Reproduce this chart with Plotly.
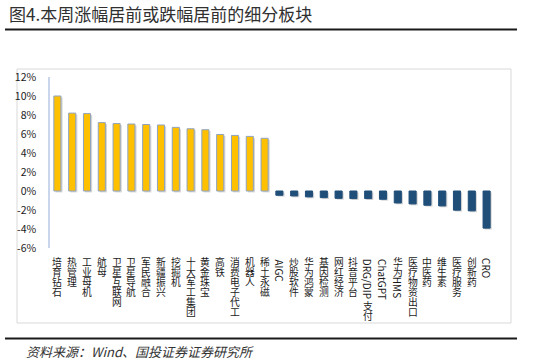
import plotly.graph_objects as go

categories = ["培育钻石", "热管理", "工业母机", "航母", "卫星互联网", "卫星导航", "军民融合",
              "新疆振兴", "挖掘机", "十大军工集团", "黄金珠宝", "高铁", "消费电子代工", "机器人",
              "稀土永磁", "AIGC", "炒股软件", "华为鸿蒙", "基因检测", "网红经济", "抖音平台",
              "DRG/DIP支付", "ChatGPT", "华为HMS", "医疗物资出口", "中医药", "维生素", "医疗服务",
              "创新药", "CRO"]
values = [10.0, 8.2, 8.15, 7.2, 7.1, 7.05, 7.0, 6.95, 6.7, 6.55, 6.45, 5.95, 5.85, 5.75, 5.55,
          -0.45, -0.52, -0.62, -0.7, -0.77, -0.8, -0.8, -0.87, -1.26, -1.36, -1.5, -1.57, -2.02,
          -2.09, -3.91]
tick_vals = [12, 10, 8, 6, 4, 2, 0, -2, -4, -6]
tick_text = ["12%", "10%", "8%", "6%", "4%", "2%", "0%", "-2%", "-4%", "-6%"]
title_text = "图4.本周涨幅居前或跌幅居前的细分板块"
source_text = "资料来源：Wind、国投证券证券研究所"

W, H = 533, 363
ML, MR, MT, MB = 50, 39, 77, 115
PW, PH = W - ML - MR, H - MT - MB


def px_x(px):
    return (px - ML) / PW


def px_y(py):
    return (H - MB - py) / PH


POS, NEG = "#FFC000", "#1F4E79"
colors = [POS if v >= 0 else NEG for v in values]
line_colors = ["#8FA3C0" if v >= 0 else "#1F4E79" for v in values]

fig = go.Figure()
# soft drop shadow
fig.add_trace(go.Bar(x=categories, y=values, base=[-0.15] * len(values), width=0.48, offset=-0.13,
                     marker=dict(color="rgba(0,0,0,0.16)", line=dict(width=0)),
                     hoverinfo="skip", showlegend=False))
fig.add_trace(go.Bar(x=categories, y=values, width=0.48, offset=-0.24,
                     marker=dict(color=colors, line=dict(color=line_colors, width=1)),
                     showlegend=False))

FONT = "Noto Sans CJK SC, Microsoft YaHei, sans-serif"
annotations = []
PITCH = 10.0
START = 9


def latin_width(s, fs=10):
    w = 0
    for ch in s:
        if ch.isupper():
            w += 0.64 * fs
        elif ch.islower():
            w += 0.55 * fs
        elif ch == "/":
            w += 0.36 * fs
        else:
            w += 0.55 * fs
    return w


for cat in categories:
    runs = []
    for ch in cat:
        cjk = ord(ch) > 0x2E80
        if runs and runs[-1][0] == cjk:
            runs[-1][1] += ch
        else:
            runs.append([cjk, ch])
    cursor = START
    for cjk, txt in runs:
        if cjk:
            for ch in txt:
                annotations.append(dict(x=cat, xref="x", y=0, yref="paper", text=ch,
                                        showarrow=False, yanchor="middle", xanchor="center",
                                        yshift=-(cursor + PITCH / 2), borderpad=0,
                                        height=PITCH, valign="middle",
                                        font=dict(family=FONT, size=9.8, color="#1a1a1a")))
                cursor += PITCH
        else:
            w = latin_width(txt)
            annotations.append(dict(x=cat, xref="x", y=0, yref="paper", text=txt,
                                    showarrow=False, yanchor="middle", xanchor="center",
                                    textangle=90, yshift=-(cursor + w / 2 + 1), borderpad=0,
                                    font=dict(family=FONT, size=10, color="#1a1a1a")))
            cursor += w + 2

annotations.append(dict(x=px_x(7), xref="paper", y=px_y(14), yref="paper", text=title_text,
                        showarrow=False, xanchor="left", yanchor="middle",
                        font=dict(family=FONT, size=17, color="#303030")))
annotations.append(dict(x=px_x(24), xref="paper", y=px_y(351), yref="paper", text=source_text,
                        showarrow=False, xanchor="left", yanchor="middle",
                        font=dict(family=FONT, size=13, color="#333333", style="italic")))

shapes = [
    dict(type="line", xref="paper", yref="paper", x0=px_x(5), x1=px_x(517), y0=px_y(29.5),
         y1=px_y(29.5), line=dict(color="#1a1a1a", width=2)),
    dict(type="line", xref="paper", yref="paper", x0=px_x(5), x1=px_x(517), y0=px_y(338.5),
         y1=px_y(338.5), line=dict(color="#1a1a1a", width=2)),
    dict(type="rect", xref="paper", yref="paper", x0=px_x(17), x1=px_x(511), y0=px_y(69),
         y1=px_y(323), line=dict(color="#D9D9D9", width=1), layer="below"),
]

fig.update_layout(
    width=W, height=H, margin=dict(l=ML, r=MR, t=MT, b=MB, pad=0),
    paper_bgcolor="white", plot_bgcolor="white", barmode="overlay", bargap=0.5,
    annotations=annotations, shapes=shapes,
    xaxis=dict(showticklabels=False, showgrid=False, zeroline=False, showline=False,
               ticks="", range=[-0.5, len(categories) - 0.5]),
    yaxis=dict(range=[-6, 12], tickvals=tick_vals, ticktext=tick_text, showgrid=False,
               zeroline=False, showline=True, linecolor="#C9D6EC", linewidth=1.5, ticks="",
               tickfont=dict(family=FONT, size=10.5, color="#1a1a1a"), ticklabelstandoff=10),
)

fig.write_html("out.html", config={"displayModeBar": False},
               post_script="document.body.style.margin='0px';")
